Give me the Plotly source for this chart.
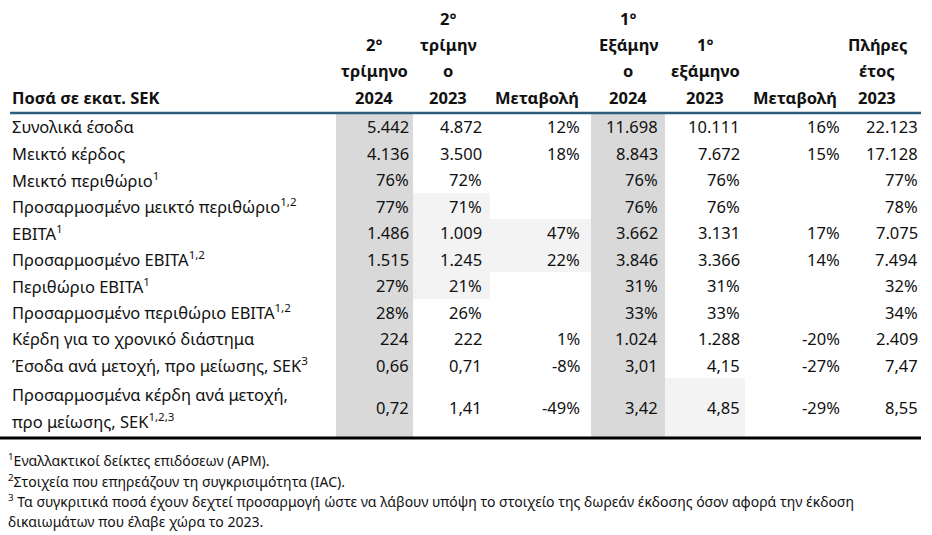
import plotly.graph_objects as go

W, H = 932, 535

row_labels = [
    "Συνολικά έσοδα",
    "Μεικτό κέρδος",
    "Μεικτό περιθώριο<sup>1</sup>",
    "Προσαρμοσμένο μεικτό περιθώριο<sup>1,2</sup>",
    "EBITA<sup>1</sup>",
    "Προσαρμοσμένο EBITA<sup>1,2</sup>",
    "Περιθώριο EBITA<sup>1</sup>",
    "Προσαρμοσμένο περιθώριο EBITA<sup>1,2</sup>",
    "Κέρδη για το χρονικό διάστημα",
    "Έσοδα ανά μετοχή, προ μείωσης, SEK<sup>3</sup>",
    "Προσαρμοσμένα κέρδη ανά μετοχή,<br>προ μείωσης, SEK<sup>1,2,3</sup>",
]

col_headers = [
    ["2°", "τρίμηνο", "2024"],
    ["2°", "τρίμην", "ο", "2023"],
    ["Μεταβολή"],
    ["1°", "Εξάμην", "ο", "2024"],
    ["1°", "εξάμηνο", "2023"],
    ["Μεταβολή"],
    ["Πλήρες", "έτος", "2023"],
]
corner_header = "Ποσά σε εκατ. SEK"

q2_2024 = ["5.442", "4.136", "76%", "77%", "1.486", "1.515", "27%", "28%", "224", "0,66", "0,72"]
q2_2023 = ["4.872", "3.500", "72%", "71%", "1.009", "1.245", "21%", "26%", "222", "0,71", "1,41"]
q_change = ["12%", "18%", "", "", "47%", "22%", "", "", "1%", "-8%", "-49%"]
h1_2024 = ["11.698", "8.843", "76%", "76%", "3.662", "3.846", "31%", "33%", "1.024", "3,01", "3,42"]
h1_2023 = ["10.111", "7.672", "76%", "76%", "3.131", "3.366", "31%", "33%", "1.288", "4,15", "4,85"]
h_change = ["16%", "15%", "", "", "17%", "14%", "", "", "-20%", "-27%", "-29%"]
fy_2023 = ["22.123", "17.128", "77%", "78%", "7.075", "7.494", "32%", "34%", "2.409", "7,47", "8,55"]

footnotes = [
    "<sup>1</sup>Εναλλακτικοί δείκτες επιδόσεων (APM).",
    "<sup>2</sup>Στοιχεία που επηρεάζουν τη συγκρισιμότητα (IAC).",
    "<sup>3</sup> Τα συγκριτικά ποσά έχουν δεχτεί προσαρμογή ώστε να λάβουν υπόψη το στοιχείο της δωρεάν έκδοσης όσον αφορά την έκδοση",
    "δικαιωμάτων που έλαβε χώρα το 2023.",
]

columns = [q2_2024, q2_2023, q_change, h1_2024, h1_2023, h_change, fy_2023]

# layout geometry (pixels)
col_right = [411, 484, 582, 660, 742, 842, 920]
col_center = [374, 448, 537, 628, 705, 795, 877]
col_left_edge = [336, 413, 490, 591, 665, 745, 845]
col_right_edge = [413, 490, 591, 665, 745, 845, 922]
row_top = [113, 140, 166, 193, 219, 246, 272, 299, 325, 352, 378]
row_bot = row_top[1:] + [437]
header_line_y = [18, 44, 70, 97]

FONT = "Noto Sans, Open Sans, sans-serif"
FS = 16.5
TXT = "#111111"

fig = go.Figure()
shapes = []
ann = []

# strong shading for 2024 columns
for ci in (0, 3):
    shapes.append(dict(type="rect", xref="x", yref="y", x0=col_left_edge[ci], x1=col_right_edge[ci],
                       y0=113, y1=437, fillcolor="#d9d9d9", line_width=0, layer="below"))
# faint shading cells
faint = [(1, 3), (1, 4), (1, 5), (1, 6), (2, 4), (2, 5), (4, 10)]
for ci, ri in faint:
    shapes.append(dict(type="rect", xref="x", yref="y", x0=col_left_edge[ci], x1=col_right_edge[ci],
                       y0=row_top[ri], y1=row_bot[ri], fillcolor="#f3f3f3", line_width=0, layer="below"))

# lines
shapes.append(dict(type="line", xref="x", yref="y", x0=10, x1=921, y0=113, y1=113,
                   line=dict(color="#2d5c7c", width=2.5)))
shapes.append(dict(type="line", xref="x", yref="y", x0=0, x1=921, y0=438, y1=438,
                   line=dict(color="#000000", width=3)))

# headers
ann.append(dict(x=10, y=97, text="<b>%s</b>" % corner_header, xanchor="left", yanchor="middle",
                showarrow=False, font=dict(family=FONT, size=FS, color=TXT)))
for ci, lines in enumerate(col_headers):
    ys = header_line_y[-len(lines):]
    for t, yv in zip(lines, ys):
        ann.append(dict(x=col_center[ci], y=yv, text="<b>%s</b>" % t, xanchor="center", yanchor="middle",
                        showarrow=False, font=dict(family=FONT, size=FS, color=TXT)))

# body
for ri, lab in enumerate(row_labels):
    yc = (row_top[ri] + row_bot[ri]) / 2
    parts = lab.split("<br>")
    n = len(parts)
    for k, p in enumerate(parts):
        ann.append(dict(x=10, y=yc + (k - (n - 1) / 2) * 26, text=p, xanchor="left", yanchor="middle",
                        align="left", showarrow=False, font=dict(family=FONT, size=FS, color=TXT)))
    for ci, col in enumerate(columns):
        if col[ri]:
            ann.append(dict(x=col_right[ci], y=yc, text=col[ri], xanchor="right", yanchor="middle",
                            showarrow=False, font=dict(family=FONT, size=FS, color=TXT)))

# footnotes
for i, fn in enumerate(footnotes):
    ann.append(dict(x=6, y=460 + i * 20.5, text=fn, xanchor="left", yanchor="middle",
                    showarrow=False,
                    font=dict(family="Noto Sans, sans-serif", size=14, color=TXT)))

fig.update_layout(
    width=W, height=H, margin=dict(l=0, r=0, t=0, b=0),
    paper_bgcolor="white", plot_bgcolor="white",
    xaxis=dict(range=[0, W], visible=False, fixedrange=True),
    yaxis=dict(range=[H, 0], visible=False, fixedrange=True),
    shapes=shapes, annotations=ann, showlegend=False,
)
fig.write_html("out.html", config={"displayModeBar": False},
               post_script="document.body.style.margin='0';document.body.style.overflow='hidden';")
